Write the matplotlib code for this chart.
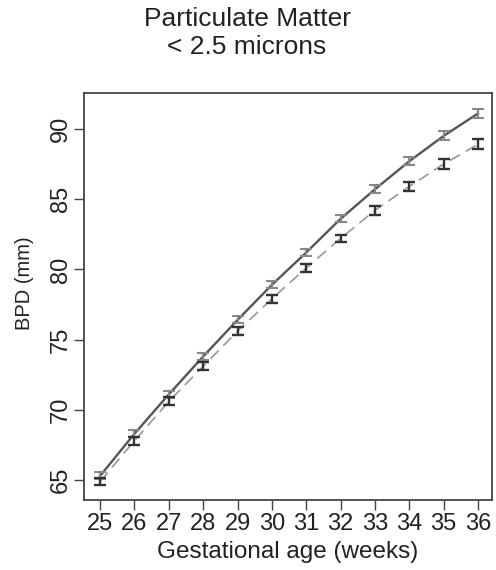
import matplotlib
matplotlib.use("Agg")
import matplotlib.pyplot as plt

weeks = [25, 26, 27, 28, 29, 30, 31, 32, 33, 34, 35, 36]
bpd_low = [65.3, 68.3, 71.1, 73.8, 76.4, 78.9, 81.2, 83.6, 85.7, 87.7, 89.5, 91.1]
bpd_high = [64.9, 67.8, 70.6, 73.1, 75.6, 77.9, 80.1, 82.2, 84.2, 85.9, 87.5, 88.9]
err_low = [0.25, 0.25, 0.25, 0.25, 0.25, 0.25, 0.25, 0.25, 0.28, 0.3, 0.32, 0.35]
err_high = [0.28, 0.28, 0.28, 0.28, 0.28, 0.28, 0.28, 0.28, 0.3, 0.3, 0.33, 0.36]
yticks = [65, 70, 75, 80, 85, 90]

plt.rcParams['font.family'] = ['Liberation Sans', 'DejaVu Sans']

fig = plt.figure(figsize=(4.96, 5.70), dpi=100)
ax = fig.add_axes([84/496, 1-500/570, (492-84)/496, (500-93)/570])

ax.plot(weeks, bpd_low, color='#555555', lw=1.7, ls='-')
ax.errorbar(weeks, bpd_low, yerr=err_low, fmt='none', ecolor='#888888',
            elinewidth=1.5, capsize=4.3, capthick=1.5)
ax.plot(weeks, bpd_high, color='#999999', lw=1.2, ls=(0, (7, 4)))
ax.errorbar(weeks, bpd_high, yerr=err_high, fmt='none', ecolor='#333333',
            elinewidth=1.7, capsize=4.3, capthick=1.7)

ax.set_xlim(24.53, 36.41)
ax.set_ylim(63.58, 92.56)
ax.set_xticks(weeks)
ax.set_yticks(yticks)
ax.tick_params(direction='out', length=7, width=1, color='#444444',
               labelsize=17, pad=2, labelcolor='#222222')
for lab in ax.get_yticklabels():
    lab.set_rotation(90)
    lab.set_va('center')
for s in ax.spines.values():
    s.set_color('#444444')
    s.set_linewidth(1.3)

ax.set_xlabel('Gestational age (weeks)', fontsize=17.5, color='#222222')
ax.set_ylabel('BPD (mm)', fontsize=14.5, color='#222222')
ax.xaxis.set_label_coords((288 - 84) / 408, -(552 - 500) / 407)
ax.yaxis.set_label_coords(-(84 - 25) / 408, (500 - 283) / 407)
ax.xaxis.label.set_va('center')
ax.yaxis.label.set_va('center')

fig.text(247/496, 1-19/570, 'Particulate Matter', ha='center', va='center',
         fontsize=19, color='#222222')
fig.text(247/496, 1-47/570, '< 2.5 microns', ha='center', va='center',
         fontsize=19, color='#222222')

fig.savefig('out.png', dpi=100)
